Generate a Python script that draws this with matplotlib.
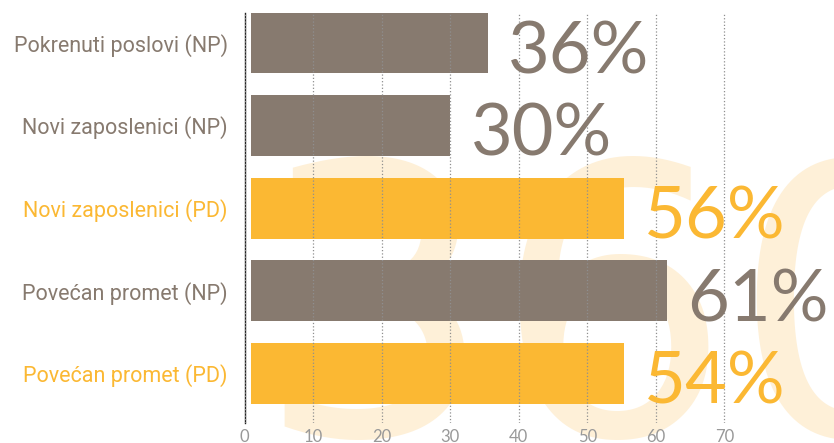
import numpy as np
import matplotlib.pyplot as plt

# Podaci
categories = ["Pokrenuti poslovi (NP)", "Novi zaposlenici (NP)", "Novi zaposlenici (PD)",
              "Povećan promet (NP)", "Povećan promet (PD)"]
bar_values = [35.5, 30.0, 55.3, 61.6, 55.3]
value_labels = ["36%", "30%", "56%", "61%", "54%"]
groups = ["NP", "NP", "PD", "NP", "PD"]
x_ticks = [0, 10, 20, 30, 40, 50, 60, 70]

GREY = "#877A6F"
YELLOW = "#FBB833"
colors = [GREY if g == "NP" else YELLOW for g in groups]

fig = plt.figure(figsize=(8.34, 4.43), dpi=100)
ax = fig.add_axes([0.2932, 0.0451, 0.7068, 0.9256])
ax.patch.set_alpha(0)

# Vodeni žig u pozadini
fig.text(255 / 834, 8 / 443, "360", fontsize=270, color="#FEF0D8",
         family="DejaVu Sans", ha="left", va="baseline", zorder=-10)

y = np.arange(len(categories))
ax.barh(y, np.array(bar_values) - 0.9, left=0.9, height=0.737, color=colors, zorder=1)

for i, (v, lab, c) in enumerate(zip(bar_values, value_labels, colors)):
    ax.text(v + 3.0, i + 0.368, lab, color=c, fontsize=52, family="Lato",
            fontweight="normal", ha="left", va="baseline", zorder=3)

ax.set_xlim(0, 86)
ax.set_ylim(4.6, -0.36)
ax.set_xticks(x_ticks)
ax.set_yticks(y)
ax.set_yticklabels(categories, family="Roboto", fontsize=15.5)
for lbl, c in zip(ax.get_yticklabels(), colors):
    lbl.set_color(c)
ax.tick_params(axis="y", length=0, pad=12)
ax.tick_params(axis="x", length=0, pad=4, labelsize=12, labelcolor="#999999")
for t in ax.get_xticklabels():
    t.set_family("Lato")

ax.set_axisbelow(False)
ax.grid(axis="x", linestyle=":", color="#8f8f8f", linewidth=0.9, zorder=2)
ax.grid(axis="y", visible=False)

for s in ["top", "right", "bottom"]:
    ax.spines[s].set_visible(False)
ax.spines["left"].set_color("#222222")
ax.spines["left"].set_linewidth(1.0)

fig.savefig("out.png", dpi=100)
